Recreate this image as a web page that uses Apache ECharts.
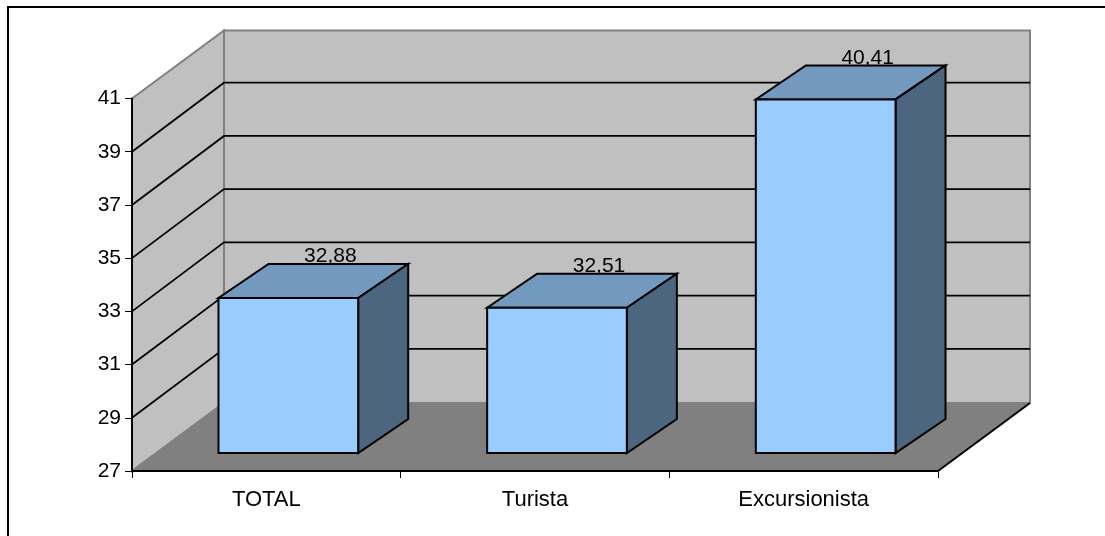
<!DOCTYPE html>
<html>
<head>
<meta charset="utf-8">
<style>html,body{margin:0;padding:0;background:#fff}#c{width:1105px;height:536px}</style>
<script src="https://cdn.jsdelivr.net/npm/echarts@6/dist/echarts.min.js"></script>
</head>
<body>
<div id="c"></div>
<script>
var categories = ['TOTAL', 'Turista', 'Excursionista'];
var values = [32.88, 32.51, 40.41];
var yTicks = [27, 29, 31, 33, 35, 37, 39, 41];
var gridValues = [29, 31, 33, 35, 37, 39];

var WALL = '#C0C0C0', FLOOR = '#808080', EDGE = '#808080';
var FRONT = '#99CCFF', TOP = '#7399BF', SIDE = '#4D6680';
var FONT = '"Liberation Sans", Arial, sans-serif';
var DX = 92, DY = -68, GRID_DY = -69; // depth of the chart box
var BAR_DX = 50, BAR_DY = -34;   // depth of a bar
var BAR_OX = 22, BAR_OY = -18;   // bar's offset into the box
var BAR_RATIO = 0.52, BAR_SCALE = 0.991;

function poly(points, fill, stroke, w) {
  return { type: 'polygon', shape: { points: points },
    style: { fill: fill, stroke: stroke || null, lineWidth: w || 0, lineJoin: 'miter' } };
}

var chart = echarts.init(document.getElementById('c'), null, { renderer: 'canvas' });
chart.setOption({
  animation: false,
  backgroundColor: '#fff',
  graphic: [{
    type: 'polyline', silent: true,
    shape: { points: [[8, 536], [8, 7], [1105, 7]] },
    style: { stroke: '#000', lineWidth: 2, fill: null }
  }],
  grid: { left: 132, top: 98.5, width: 806, height: 372.5 },
  xAxis: {
    type: 'category', data: categories, boundaryGap: true, z: 10,
    axisLine: { lineStyle: { color: '#000', width: 2 } },
    axisTick: { show: true, length: 7, lineStyle: { color: '#000', width: 1 } },
    axisLabel: { color: '#000', fontFamily: FONT, fontSize: 22, margin: 18 }
  },
  yAxis: {
    type: 'value', min: 27, max: 41, z: 10,
    splitLine: { show: false },
    axisLine: { show: true, lineStyle: { color: '#000', width: 2 } },
    axisTick: { show: true, length: 7, customValues: yTicks, lineStyle: { color: '#000', width: 1 } },
    axisLabel: { color: '#000', fontFamily: FONT, fontSize: 21, margin: 11, customValues: yTicks, padding: [2, 0, 0, 0] }
  },
  series: [
    { // walls and floor
      type: 'custom', coordinateSystem: 'cartesian2d', silent: true, clip: false,
      data: [[0, 27]],
      renderItem: function (params, api) {
        var c = params.coordSys, l = c.x, r = c.x + c.width, t = c.y, b = c.y + c.height;
        return { type: 'group', children: [
          poly([[l + DX, t + DY], [r + DX, t + DY], [r + DX, b + DY], [l + DX, b + DY]], WALL, EDGE, 2),
          poly([[l, t], [l + DX, t + DY], [l + DX, b + DY], [l, b]], WALL, EDGE, 2),
          poly([[l, b], [l + DX, b + DY], [r + DX, b + DY], [r, b]], FLOOR, null, 0),
          { type: 'line', shape: { x1: l, y1: b, x2: l + DX, y2: b + DY }, style: { stroke: EDGE, lineWidth: 2 } },
          { type: 'line', shape: { x1: l + DX, y1: b + DY, x2: r + DX, y2: b + DY }, style: { stroke: EDGE, lineWidth: 2 } },
          { type: 'line', shape: { x1: r, y1: b, x2: r + DX, y2: b + DY }, style: { stroke: '#000', lineWidth: 2 } }
        ] };
      }
    },
    { // gridlines along side and back wall
      type: 'custom', coordinateSystem: 'cartesian2d', silent: true, clip: false,
      data: gridValues.map(function (v) { return [0, v]; }),
      renderItem: function (params, api) {
        var c = params.coordSys, y = api.coord([0, api.value(1)])[1];
        return { type: 'polyline',
          shape: { points: [[c.x, y], [c.x + DX, y + GRID_DY], [c.x + c.width + DX, y + GRID_DY]] },
          style: { stroke: '#000', lineWidth: 1.8, fill: null } };
      }
    },
    { // 3D bars
      type: 'custom', coordinateSystem: 'cartesian2d', clip: false,
      data: values.map(function (v, i) { return [i, v]; }),
      renderItem: function (params, api) {
        var i = api.value(0), v = api.value(1);
        var base = api.coord([i, 27]), top = api.coord([i, v]);
        var w = api.size([1, 0])[0] * BAR_RATIO;
        var x0 = base[0] + BAR_OX - w / 2, x1 = x0 + w;
        var yb = base[1] + BAR_OY, yt = yb - (base[1] - top[1]) * BAR_SCALE;
        return { type: 'group', children: [
          poly([[x0, yt], [x1, yt], [x1 + BAR_DX, yt + BAR_DY], [x0 + BAR_DX, yt + BAR_DY]], TOP, '#000', 2),
          poly([[x1, yt], [x1 + BAR_DX, yt + BAR_DY], [x1 + BAR_DX, yb + BAR_DY], [x1, yb]], SIDE, '#000', 2),
          poly([[x0, yt], [x1, yt], [x1, yb], [x0, yb]], FRONT, '#000', 2),
          { type: 'text',
            style: { text: v.toFixed(2).replace('.', ','), x: (x0 + x1) / 2 + 42, y: yt + BAR_DY + 3,
              fill: '#000', font: '21px ' + FONT, textAlign: 'center', textVerticalAlign: 'bottom' } }
        ] };
      }
    }
  ]
});
</script>
</body>
</html>
